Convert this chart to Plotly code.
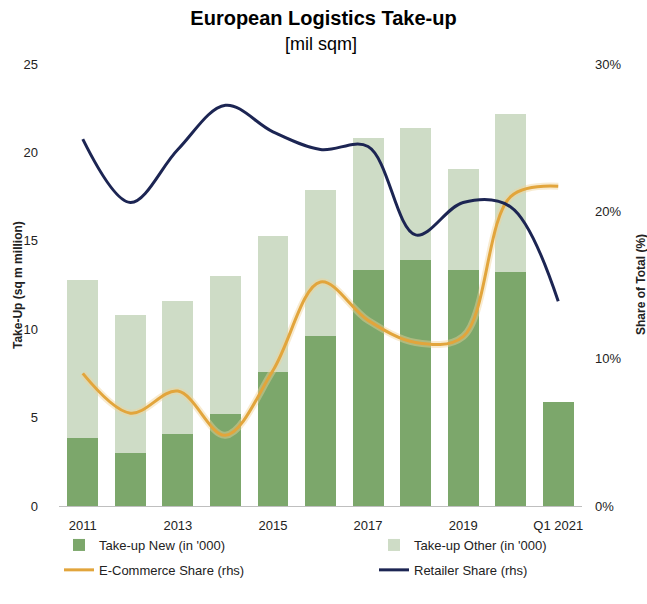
import plotly.graph_objects as go

# Categories and series
periods = ["2011", "2012", "2013", "2014", "2015", "2016", "2017", "2018", "2019", "2020", "Q1 2021"]
takeup_new = [3.83, 3.02, 4.05, 5.2, 7.6, 9.6, 13.35, 13.9, 13.35, 13.25, 5.9]
takeup_other = [8.95, 7.78, 7.56, 7.8, 7.67, 8.3, 7.45, 7.5, 5.71, 8.92, 0.0]
ecommerce_share = [9.0, 6.3, 7.8, 4.8, 9.2, 15.2, 12.6, 11.1, 11.5, 21.0, 21.7]
retailer_share = [24.9, 20.6, 24.2, 27.2, 25.4, 24.2, 24.4, 18.4, 20.6, 20.3, 13.9]
x_tick_labels = ["2011", "2013", "2015", "2017", "2019", "Q1 2021"]

FONT = "Liberation Sans, Arial, sans-serif"
GREEN_DARK = "#7ca76b"
GREEN_LIGHT = "#cedcc6"
ORANGE = "#e2a53c"
NAVY = "#1c2553"
TEXT = "#222222"

W, H = 647, 604
ML, MR, MT, MB = 59, 65, 64, 98

fig = go.Figure()

fig.add_trace(go.Bar(
    x=periods, y=takeup_new, name="Take-up New (in '000)",
    marker=dict(color=GREEN_DARK, line=dict(width=0)),
    legend="legend", legendgroup="new",
))
fig.add_trace(go.Bar(
    x=periods, y=takeup_other, name="Take-up Other (in '000)",
    marker=dict(color=GREEN_LIGHT, line=dict(width=0)),
    legend="legend2", legendgroup="other",
))

# soft glow under the e-commerce line
fig.add_trace(go.Scatter(
    x=periods, y=ecommerce_share, yaxis="y2", mode="lines",
    line=dict(color="rgba(240,210,150,0.45)", width=7, shape="spline"),
    showlegend=False, hoverinfo="skip",
))
fig.add_trace(go.Scatter(
    x=periods, y=ecommerce_share, yaxis="y2", mode="lines",
    name="E-Commerce Share (rhs)",
    line=dict(color=ORANGE, width=3, shape="spline"),
    legend="legend", legendgroup="ecom",
))
fig.add_trace(go.Scatter(
    x=periods, y=retailer_share, yaxis="y2", mode="lines",
    name="Retailer Share (rhs)",
    line=dict(color=NAVY, width=3, shape="spline"),
    legend="legend2", legendgroup="retail",
))

legend_common = dict(
    orientation="v", yref="container", xref="container",
    y=1 - 530 / H, yanchor="top", xanchor="left",
    font=dict(size=13, color=TEXT), tracegroupgap=5,
    itemwidth=30, bgcolor="rgba(0,0,0,0)",
)

fig.update_layout(
    width=W, height=H,
    margin=dict(l=ML, r=MR, t=MT, b=MB, autoexpand=False),
    paper_bgcolor="white", plot_bgcolor="white",
    barmode="stack", bargap=0.35,
    font=dict(family=FONT, size=13, color=TEXT),
    title=dict(
        text="<b>European Logistics Take-up</b>",
        x=0.5, xanchor="center", y=0.97, yanchor="middle",
        font=dict(family=FONT, size=20, color="black"),
    ),
    xaxis=dict(
        type="category",
        tickmode="array", tickvals=x_tick_labels, ticktext=x_tick_labels,
        showgrid=False, zeroline=False,
        showline=True, linecolor="#bfbfbf", linewidth=1,
        ticks="", ticklabelstandoff=7,
        tickfont=dict(size=13, color=TEXT),
    ),
    yaxis=dict(
        range=[0, 25], dtick=5, showgrid=False, zeroline=False, showline=False,
        ticks="", ticklabelstandoff=20,
        tickfont=dict(size=13, color=TEXT),
    ),
    yaxis2=dict(
        overlaying="y", side="right",
        range=[0, 30], dtick=10, ticksuffix="%",
        showgrid=False, zeroline=False, showline=False,
        ticks="", ticklabelstandoff=12,
        tickfont=dict(size=13, color=TEXT),
    ),
    legend=dict(legend_common, x=59 / W),
    legend2=dict(legend_common, x=374 / W),
)

plot_w = W - ML - MR
plot_h = H - MT - MB
fig.add_annotation(
    text="[mil sqm]", xref="paper", yref="paper",
    x=0.5, y=1.0 + (MT - 44) / plot_h, xanchor="center", yanchor="middle",
    showarrow=False, font=dict(family=FONT, size=18, color="black"),
)
# axis titles
fig.add_annotation(
    text="<b>Take-Up (sq m million)</b>", xref="paper", yref="paper",
    x=(18 - ML) / plot_w, y=0.5, xanchor="center", yanchor="middle",
    textangle=-90, showarrow=False, font=dict(family=FONT, size=12, color=TEXT),
)
fig.add_annotation(
    text="<b>Share of Total (%)</b>", xref="paper", yref="paper",
    x=(641 - ML) / plot_w, y=0.5, xanchor="center", yanchor="middle",
    textangle=-90, showarrow=False, font=dict(family=FONT, size=12, color=TEXT),
)

fig.write_html("out.html")
